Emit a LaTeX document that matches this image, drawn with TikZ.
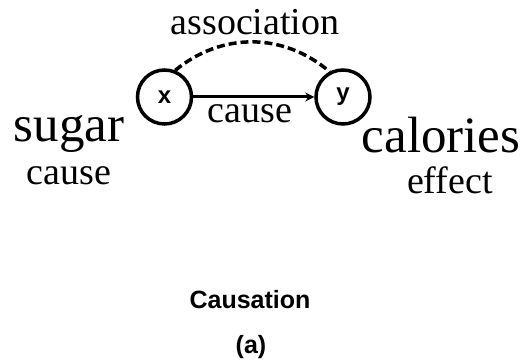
\documentclass[tikz,border=0pt]{standalone}
\usepackage{fontspec}
\setmainfont{Liberation Serif}
\newfontfamily\labelfont{Liberation Sans}
\usetikzlibrary{positioning, arrows.meta}

\begin{document}
\begin{tikzpicture}[
        x=1pt, y=1pt,
        var/.style={circle, draw, line width=3.5pt, minimum size=54pt, inner sep=0pt,
                    font=\labelfont\bfseries\fontsize{24}{24}\selectfont},
        bigword/.style={anchor=base, inner sep=0pt, font=\fontsize{51}{51}\selectfont},
        smallword/.style={anchor=base, inner sep=0pt, font=\fontsize{38}{38}\selectfont},
        caption/.style={inner sep=0pt, font=\labelfont\bfseries\fontsize{25}{25}\selectfont},
        arrow/.style={-{Stealth[length=9pt, width=9pt]}, line width=3pt},
        assoc/.style={line width=3.5pt, dash pattern=on 8pt off 4pt}
    ]
        \useasboundingbox (0,0) rectangle (531,363);

        % Nodes
        \node [var] (x) at (164.5,266) {x};
        \node [var] (y) at (343,266) {y};

        \node [bigword] (sugar) at (69,221) {sugar};
        \node [smallword] (sugarrole) at (69,178) {cause};
        \node [bigword] (calories) at (441,210) {calories};
        \node [smallword] (caloriesrole) at (450,169) {effect};

        \node [smallword] (assoclabel) at (255,328) {association};
        \node [smallword] (causelabel) at (250,240) {cause};

        \node [caption] (title) at (250,63) {Causation};
        \node [caption] (sub) at (251,16) {(a)};

        % Edges
        \draw [arrow] (x) -- (y);
        \draw [assoc] (x.68) to[bend left=40] (y.118);

    \end{tikzpicture}
\end{document}
